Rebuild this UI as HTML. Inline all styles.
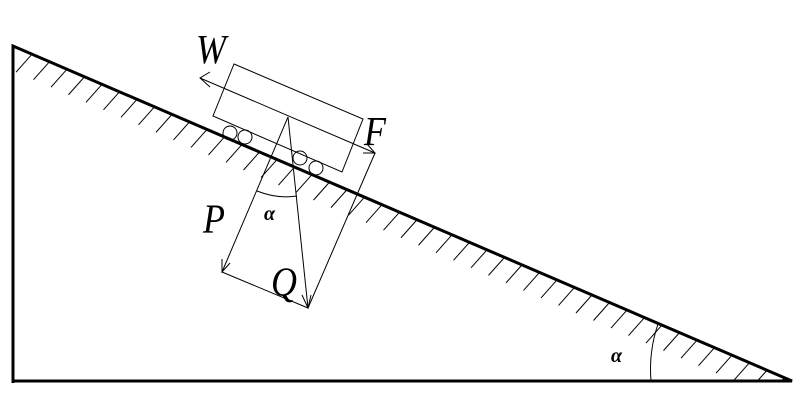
<!DOCTYPE html>
<html><head><meta charset="utf-8"><style>
html,body{margin:0;padding:0;background:#fff;width:801px;height:400px;overflow:hidden}
svg{display:block}
text{font-family:"Liberation Serif",serif;font-style:italic}
</style></head><body>
<svg id="s" width="801" height="400" viewBox="0 0 801 400" xmlns="http://www.w3.org/2000/svg">
<g id="h" stroke="#000" stroke-width="1"></g>
<g stroke="#000" fill="none">
<polyline points="13,383 13,46 792,381 13,381" stroke-width="3"/>
<path d="M651,381 A141,141 0 0 1 658,324" stroke-width="1"/>
<polygon points="234,64 363,119 342,172 213,116" stroke-width="1"/>
<line x1="200" y1="78" x2="375" y2="153"/>
<polyline points="210,72 200,78 210,87"/>
<polyline points="363,153 375,153 367,144"/>
<circle cx="230" cy="133" r="7"/><circle cx="245" cy="137" r="7"/>
<circle cx="300" cy="158" r="7"/><circle cx="316" cy="168" r="7"/>
<line x1="288" y1="117" x2="308" y2="308"/>
<polyline points="302,295 308,308 311,295"/>
<line x1="288" y1="117" x2="222" y2="272"/>
<polyline points="222,259 222,272 230,263"/>
<line x1="375" y1="153" x2="308" y2="308"/>
<line x1="222" y1="272" x2="308" y2="308"/>
<path d="M257,191 Q277,199 297,196"/>
</g>
<g transform="scale(1,1.15)">
<text x="196" y="55" font-size="36">W</text>
<text x="364" y="126" font-size="36">F</text>
<text x="203" y="202" font-size="36">P</text>
<text x="271" y="257" font-size="36">Q</text>
</g>
<text x="264" y="220" font-size="20" font-weight="bold">α</text>
<text x="611" y="362" font-size="20" font-weight="bold">α</text>
</svg>
<script>
var g=document.getElementById('h'),k=335/779;
for(var x=32;x<785;x+=17.5){var y=46+(x-13)*k;
var l=document.createElementNS('http://www.w3.org/2000/svg','line');
var dx=-16,dy=18;var ex=x+dx,ey=y+dy;
if(ex<14){continue;}
var yb=381; if(ey>yb){var t=(yb-y)/dy;ex=x+dx*t;ey=yb;}
l.setAttribute('x1',x);l.setAttribute('y1',y);l.setAttribute('x2',ex);l.setAttribute('y2',ey);g.appendChild(l);}
</script>
</body></html>
